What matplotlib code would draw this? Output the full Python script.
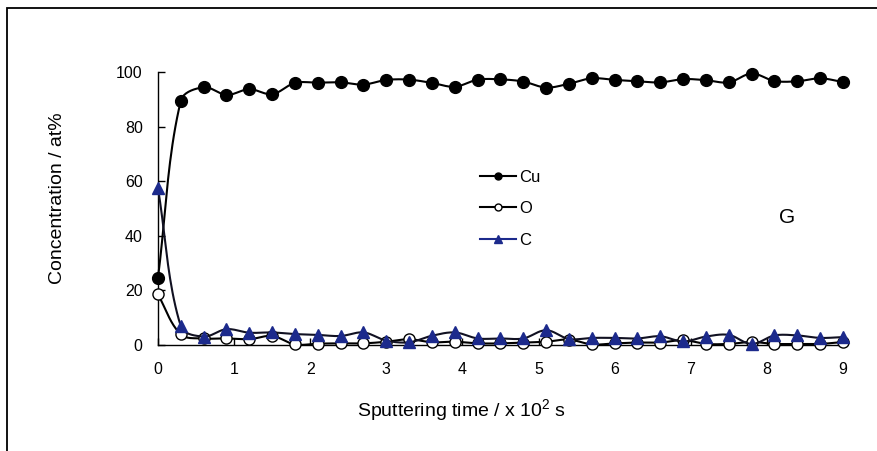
import numpy as np
import matplotlib
matplotlib.use("Agg")
import matplotlib.pyplot as plt
from matplotlib.lines import Line2D
from matplotlib.patches import Rectangle

plt.rcParams['font.family'] = ['Liberation Sans', 'DejaVu Sans']
plt.rcParams['mathtext.fontset'] = 'custom'
plt.rcParams['mathtext.rm'] = 'Liberation Sans'
plt.rcParams['mathtext.default'] = 'regular'

# Sputtering time in units of 10^2 s
time = np.round(np.arange(31) * 0.3, 1)

cu = [24.7, 89.5, 94.4, 91.6, 93.7, 91.9, 96.0, 96.1, 96.2, 95.4,
      97.1, 97.2, 96.0, 94.6, 97.2, 97.3, 96.5, 94.3, 95.7, 97.7,
      97.1, 96.6, 96.2, 97.4, 97.0, 96.2, 99.4, 96.7, 96.6, 97.7, 96.3]
oxy = [18.5, 3.9, 2.4, 2.4, 2.1, 3.3, 0.2, 0.5, 0.6, 0.6,
       1.2, 2.1, 1.0, 1.2, 0.6, 0.6, 0.9, 1.2, 2.0, 0.2,
       0.6, 0.9, 0.9, 1.8, 0.4, 0.4, 1.1, 0.4, 0.4, 0.4, 1.1]
carb = [57.4, 6.8, 3.1, 5.8, 4.5, 4.6, 4.0, 3.7, 3.3, 4.6,
        1.6, 1.0, 3.4, 4.6, 2.4, 2.4, 2.4, 5.4, 2.2, 2.6,
        2.6, 2.4, 3.2, 1.3, 3.1, 3.7, 0.4, 3.5, 3.5, 2.6, 2.9]

series_names = ["Cu", "O", "C"]
yticks = [0, 20, 40, 60, 80, 100]
xticks = list(range(10))

NAVY = "#1c2a8c"

W, H = 878, 451
x0, x1 = 158, 843
y_top, y_bot = 72, 345
XMAX, YMAX = 9, 100
# pixels per data unit, used so the smoothing behaves as it would on screen
SX = (x1 - x0) / XMAX
SY = (y_bot - y_top) / YMAX


def smooth(x, y, n=20):
    """Bezier smoothing through the points with chord-length tangents."""
    p = np.column_stack([np.asarray(x) * SX, np.asarray(y) * SY]).astype(float)
    m = len(p)
    tang = np.zeros_like(p)
    for i in range(m):
        a = p[max(i - 1, 0)]
        b = p[min(i + 1, m - 1)]
        d = b - a
        tang[i] = d / (np.hypot(*d) or 1.0)
    out = [p[0]]
    t = np.linspace(0, 1, n + 1)[1:, None]
    for i in range(m - 1):
        p1, p2 = p[i], p[i + 1]
        L = np.hypot(*(p2 - p1)) / 3.0
        c1 = p1 + tang[i] * L
        c2 = p2 - tang[i + 1] * L
        seg = ((1 - t) ** 3) * p1 + 3 * ((1 - t) ** 2) * t * c1 \
            + 3 * (1 - t) * t ** 2 * c2 + t ** 3 * p2
        out.extend(seg)
    out = np.array(out)
    return out[:, 0] / SX, out[:, 1] / SY


fig = plt.figure(figsize=(W / 100, H / 100), dpi=100)
fig.patch.set_facecolor("white")

# outer chart border
fig.add_artist(Rectangle((7.5 / W, -0.05), 1.2, (H - 8.5) / H + 0.05,
                         transform=fig.transFigure, fill=False,
                         edgecolor="black", linewidth=1.3))

ax = fig.add_axes([x0 / W, (H - y_bot) / H, (x1 - x0) / W, (y_bot - y_top) / H])
ax.set_xlim(0, XMAX)
ax.set_ylim(0, YMAX)
for s in ("top", "right"):
    ax.spines[s].set_visible(False)
for s in ("left", "bottom"):
    ax.spines[s].set_linewidth(1.0)
    ax.spines[s].set_color("black")

ax.set_xticks(xticks)
ax.set_yticks(yticks)
ax.tick_params(direction="in", length=5, width=1.0, labelsize=11.5)
ax.tick_params(axis="x", pad=12)
ax.tick_params(axis="y", pad=11)

line_w = 1.5
ms = 8.5

sx, sy = smooth(time, cu)
ax.plot(sx, sy, color="black", lw=line_w, clip_on=False, zorder=3)
ax.plot(time, cu, linestyle="none", marker="o", ms=ms, mfc="black",
        mec="black", clip_on=False, zorder=4)

sx, sy = smooth(time, oxy)
ax.plot(sx, sy, color="black", lw=line_w, clip_on=False, zorder=5)
ax.plot(time, oxy, linestyle="none", marker="o", ms=ms - 0.5, mfc="white",
        mec="black", mew=1.0, clip_on=False, zorder=6)

sx, sy = smooth(time, carb)
ax.plot(sx, sy, color="#111122", lw=line_w, clip_on=False, zorder=7)
ax.plot(time, carb, linestyle="none", marker="^", ms=ms, mfc=NAVY,
        mec=NAVY, clip_on=False, zorder=8)

fig.text(58 / W, 1 - 198 / H, "Concentration / at%", fontsize=14,
         rotation=90, ha="center", va="center")
fig.text(462 / W, 1 - 410 / H, "Sputtering time / x 10$^2$ s", fontsize=14,
         ha="center", va="center")

handles = [
    Line2D([], [], color="black", lw=1.5, marker="o", ms=5, mfc="black", mec="black"),
    Line2D([], [], color="black", lw=1.5, marker="o", ms=5, mfc="white", mec="black"),
    Line2D([], [], color=NAVY, lw=1.5, marker="^", ms=5.5, mfc=NAVY, mec=NAVY),
]
fig.legend(handles, series_names, loc="upper left",
           bbox_to_anchor=(468 / W, 1 - 158 / H), frameon=False,
           fontsize=12, handlelength=2.2, handletextpad=0.15,
           labelspacing=1.0, borderpad=0.2)

fig.text(787 / W, 1 - 217 / H, "G", fontsize=15, ha="center", va="center")

fig.savefig("out.png", dpi=100, facecolor="white")
